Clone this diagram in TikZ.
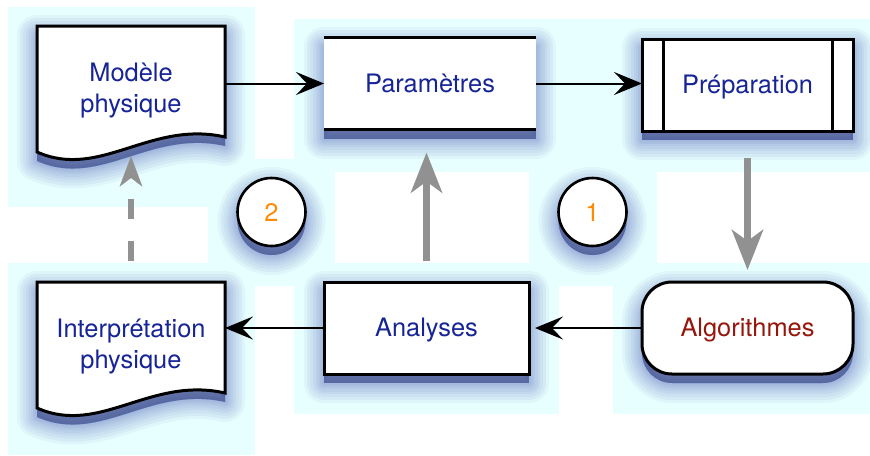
\documentclass[tikz,border=0pt]{standalone}
\usepackage{fontspec}
\setmainfont{TeX Gyre Heros}
\usetikzlibrary{arrows.meta}
\definecolor{canvas}{RGB}{232,255,255}
\definecolor{ink}{RGB}{22,36,150}
\definecolor{algored}{RGB}{150,22,12}
\definecolor{numorange}{RGB}{255,140,0}
\definecolor{halo}{RGB}{40,60,170}
\definecolor{flowgrey}{RGB}{145,145,145}
\pgfdeclarelayer{canvas}
\pgfdeclarelayer{shapes}
\pgfsetlayers{canvas,shapes,main}
\tikzset{
  halo ring/.style={preaction={draw=halo, fill=halo, line width=#1, line join=round,
    opacity=.05, transform canvas={yshift=-4.5pt}}},
  halo/.style={halo ring=20pt, halo ring=17pt, halo ring=14pt, halo ring=11pt, halo ring=8.5pt,
    halo ring=6pt, halo ring=4pt, halo ring=2pt,
    preaction={fill=halo!45!black, opacity=.3, transform canvas={yshift=-4.5pt}}},
  label/.style={text=ink, font=\fontsize{12.7}{15.5}\selectfont, align=center},
  oneline/.style={label, text height=9pt, text depth=.5pt},
  box/.style={draw=black, line width=1.5pt, fill=white, outer sep=0pt},
  stepbox/.style={box, oneline, halo, minimum width=#1, minimum height=46pt},
  docnode/.style={label, minimum width=94pt, minimum height=65pt, outer sep=0pt},
  badge/.style={box, halo, circle, line width=1.3pt, minimum size=34pt, inner sep=0pt,
    text=numorange, font=\fontsize{12.7}{15.5}\selectfont},
  flow/.style={line width=1pt, -{Stealth[length=14pt, width=11.5pt, inset=5.5pt]}},
  bigflow/.style={draw=flowgrey, line width=3.5pt, -{Stealth[length=20pt, width=15.5pt, inset=5.5pt]}},
  dashflow/.style={draw=flowgrey, line width=3.3pt, dash pattern=on 10pt off 11pt,
    -{Stealth[length=15pt, width=11pt, inset=4pt]}},
}
\newcommand{\docshape}[1]{%
  \draw[box, halo] (#1.north west) -- (#1.north east) -- ++(0,111)
    .. controls +(-75,-17) and +(63,28) .. ([yshift=-63pt]#1.north west) -- cycle;}
\begin{document}
\begin{tikzpicture}[x=0.5pt, y=-0.5pt]
\useasboundingbox (0,0) rectangle (870,455);
\begin{pgfonlayer}{canvas}
\fill[white] (0,0) rectangle (870,455);
\fill[canvas] (8,7) rectangle (255,207);
\fill[canvas] (8,263) rectangle (255,455);
\fill[canvas] (294,19) rectangle (870,172);
\fill[canvas] (208,159) rectangle (335,286);
\fill[canvas] (529,159) rectangle (657,286);
\fill[canvas] (294,263) rectangle (559,414);
\fill[canvas] (613,263) rectangle (870,414);
\end{pgfonlayer}

\node[docnode] (mp) at (131,91) {Modèle\\physique};
\node[docnode] (ip) at (131,347) {Interprétation\\physique};
\node[stepbox=106pt, draw=none] (par) at (430,83.5) {Paramètres};
\node[stepbox=105.5pt] (prep) at (747.5,85) {Préparation};
\node[stepbox=102.5pt] (ana) at (426.5,328) {Analyses};
\node[stepbox=105.5pt, rounded corners=15pt, text=algored] (algo) at (747.5,328) {Algorithmes};
\node[badge] (c2) at (271.5,212) {2};
\node[badge] (c1) at (592.5,212) {1};

\begin{pgfonlayer}{shapes}
\docshape{mp}
\docshape{ip}
\end{pgfonlayer}

\draw[line width=1.5pt] (par.north west) -- (par.north east) (par.south west) -- (par.south east);
\draw[line width=1.5pt] ([xshift=10.5pt]prep.north west) -- ([xshift=10.5pt]prep.south west)
  ([xshift=-10.5pt]prep.north east) -- ([xshift=-10.5pt]prep.south east);

\draw[flow] (mp.east |- par.west) -- (par.west);
\draw[flow] (par.east) -- (prep.west |- par.east);
\draw[flow, shorten >=3pt] (algo.west) -- (ana.east);
\draw[flow] (ana.west) -- (ip.east |- ana.west);
\draw[bigflow, shorten <=13.5pt, shorten >=6pt] (prep.south) -- (prep.south |- algo.north);
\draw[bigflow, shorten <=10.5pt, shorten >=11.5pt] (ana.north) -- (ana.north |- par.south);
\draw[dashflow, shorten <=10.5pt] (ip.north) -- (mp.south);
\end{tikzpicture}
\end{document}
